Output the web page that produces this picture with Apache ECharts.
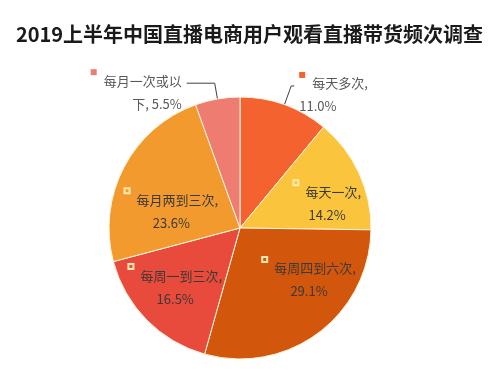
<!DOCTYPE html>
<html><head><meta charset="utf-8">
<script src="https://cdn.jsdelivr.net/npm/echarts@6/dist/echarts.min.js"></script>
<style>html,body{margin:0;padding:0;background:#fff}#c{width:499px;height:383px}</style>
</head><body><div id="c"></div>
<script>
var titleText = '2019上半年中国直播电商用户观看直播带货频次调查';
var categories = ['每天多次', '每天一次', '每周四到六次', '每周一到三次', '每月两到三次', '每月一次或以下'];
var values = [11.0, 14.2, 29.1, 16.5, 23.6, 5.5];
var labelLines1 = ['每天多次,', '每天一次,', '每周四到六次,', '每周一到三次,', '每月两到三次,', '每月一次或以'];
var labelLines2 = ['11.0%', '14.2%', '29.1%', '16.5%', '23.6%', '下, 5.5%'];

var colors = ['#F4622F', '#FBC43D', '#D2560B', '#E84A3B', '#F39A2F', '#EE7C70'];
var outside = [true, false, false, false, false, true];
// fine placement of inside labels (dx, dy)
var insideShift = [[0,0],[25,4],[28,-3],[-16,11],[-8,15],[0,0]];

var data = categories.map(function (c, i) {
  var isOut = outside[i];
  return {
    name: c,
    value: values[i],
    itemStyle: { color: colors[i] },
    label: {
      position: isOut ? 'outside' : 'inside',
      offset: isOut ? [0, 0] : insideShift[i],
      padding: isOut ? [18, 0, 0, 0] : 0,
      color: isOut ? '#595959' : '#3a3a3a',
      formatter: '{' + (isOut ? 'sqf' + i : 'sqo') + '|}{gap|}{t|' + labelLines1[i] + '}\n{t|' + labelLines2[i] + '}',
      rich: (function () {
        var r = {
          sqo: { width: 5, height: 5, borderColor: '#fde9b0', borderWidth: 1, backgroundColor: 'transparent', verticalAlign: 'top' },
          gap: { width: 7 },
          t: { fontSize: 13, lineHeight: 23, fontFamily: 'Noto Sans CJK SC' }
        };
        r['sqf' + i] = { width: 6, height: 6, backgroundColor: colors[i], verticalAlign: 'top' };
        return r;
      })()
    },
    labelLine: isOut ? { show: true, length: i === 0 ? 20 : 16, length2: i === 0 ? 3 : 28, lineStyle: { color: '#404040', width: 1 } } : { show: false }
  };
});

var chart = echarts.init(document.getElementById('c'));
chart.setOption({
  backgroundColor: '#ffffff',
  animation: false,
  title: {
    text: titleText,
    left: 'center',
    top: 19,
    textStyle: { fontFamily: 'Noto Sans CJK SC', fontSize: 20, fontWeight: 'bold', color: '#1a1a1a' }
  },
  series: [{
    type: 'pie',
    center: [240, 228],
    radius: [0, 131],
    startAngle: 90,
    clockwise: true,
    avoidLabelOverlap: false,
    minShowLabelAngle: 0,
    itemStyle: { borderColor: '#fff6e0', borderWidth: 1 },
    label: { show: true, align: 'center', fontFamily: 'Noto Sans CJK SC', fontSize: 13 },
    labelLayout: { hideOverlap: false },
    emphasis: { disabled: true },
    data: data
  }]
});
</script></body></html>
